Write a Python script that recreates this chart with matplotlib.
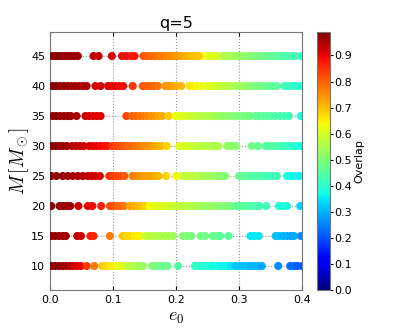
import numpy as np
import matplotlib
matplotlib.use('Agg')
from matplotlib import pyplot as plt

plt.rcParams['mathtext.fontset'] = 'cm'
plt.rcParams['font.family'] = ['DejaVu Sans']

# eccentricity / overlap per total mass row
e0_45 = [0.004, 0.009, 0.014, 0.019, 0.024, 0.029, 0.034, 0.039, 0.044,
         0.069, 0.077, 0.098, 0.114, 0.121, 0.128, 0.134,
         0.148, 0.154, 0.160, 0.166, 0.172, 0.178, 0.184, 0.190, 0.196, 0.202,
         0.208, 0.214, 0.220, 0.226, 0.232, 0.237,
         0.248, 0.254, 0.260, 0.266,
         0.276, 0.282, 0.288, 0.294, 0.300, 0.306, 0.312, 0.318, 0.324, 0.330,
         0.336, 0.342, 0.348, 0.354, 0.360, 0.366, 0.372, 0.378, 0.384, 0.390,
         0.400]
ov_45 = [0.98, 0.98, 0.98, 0.97, 0.97, 0.97, 0.97, 0.96, 0.96,
         0.93, 0.93, 0.91, 0.89, 0.89, 0.88, 0.88,
         0.81, 0.80, 0.79, 0.79, 0.78, 0.77, 0.76, 0.76, 0.75, 0.74,
         0.73, 0.72, 0.71, 0.70, 0.70, 0.69,
         0.63, 0.62, 0.61, 0.60,
         0.56, 0.55, 0.55, 0.54, 0.53, 0.52, 0.52, 0.51, 0.50, 0.49,
         0.48, 0.48, 0.47, 0.46, 0.45, 0.45, 0.44, 0.44, 0.43, 0.43,
         0.40]

e0_40 = [0.004, 0.010, 0.016, 0.022, 0.028, 0.034, 0.040, 0.046, 0.052, 0.058,
         0.072, 0.080, 0.092, 0.098, 0.104, 0.110, 0.116, 0.131,
         0.147, 0.153, 0.159, 0.165, 0.171,
         0.183, 0.189, 0.195, 0.201, 0.208,
         0.221, 0.227, 0.233, 0.240,
         0.250, 0.256, 0.262, 0.268, 0.274, 0.280, 0.286,
         0.294, 0.300, 0.306, 0.312, 0.318, 0.324, 0.330, 0.336, 0.342, 0.348,
         0.354, 0.360,
         0.372, 0.378, 0.384, 0.390, 0.398]
ov_40 = [0.98, 0.98, 0.97, 0.97, 0.97, 0.96, 0.96, 0.96, 0.95, 0.95,
         0.92, 0.92, 0.91, 0.90, 0.90, 0.89, 0.89, 0.85,
         0.81, 0.80, 0.80, 0.79, 0.78,
         0.75, 0.74, 0.73, 0.72, 0.71,
         0.66, 0.65, 0.64, 0.63,
         0.62, 0.61, 0.60, 0.59, 0.58, 0.57, 0.56,
         0.55, 0.54, 0.53, 0.52, 0.51, 0.50, 0.49, 0.48, 0.48, 0.47,
         0.46, 0.46,
         0.42, 0.42, 0.41, 0.40, 0.39]

e0_35 = [0.004, 0.010, 0.016, 0.022, 0.028, 0.033, 0.042,
         0.056, 0.062, 0.068, 0.074, 0.080, 0.121,
         0.130, 0.136, 0.142, 0.148, 0.154, 0.160, 0.166, 0.172, 0.178, 0.188,
         0.199, 0.205, 0.211, 0.217, 0.223, 0.229, 0.235, 0.241, 0.247, 0.253,
         0.259, 0.264,
         0.270, 0.276, 0.282, 0.288, 0.294, 0.300, 0.306, 0.312, 0.317,
         0.326, 0.332, 0.338, 0.344, 0.350, 0.357,
         0.365, 0.372, 0.379, 0.398]
ov_35 = [0.98, 0.98, 0.97, 0.97, 0.97, 0.96, 0.95,
         0.92, 0.92, 0.91, 0.91, 0.90, 0.83,
         0.80, 0.79, 0.78, 0.77, 0.76, 0.75, 0.74, 0.73, 0.72, 0.69,
         0.63, 0.62, 0.61, 0.60, 0.59, 0.58, 0.58, 0.57, 0.56, 0.56,
         0.55, 0.54,
         0.53, 0.52, 0.52, 0.51, 0.50, 0.50, 0.49, 0.49, 0.48,
         0.47, 0.46, 0.46, 0.45, 0.45, 0.44,
         0.43, 0.43, 0.42, 0.38]

e0_30 = [0.003, 0.009, 0.015, 0.021, 0.027,
         0.035, 0.041, 0.047, 0.053,
         0.062, 0.068, 0.074, 0.080, 0.086, 0.091,
         0.099, 0.105, 0.111, 0.117, 0.123, 0.129, 0.135, 0.141, 0.147, 0.153,
         0.159, 0.165, 0.171, 0.177, 0.185,
         0.205, 0.212, 0.219, 0.225,
         0.232, 0.238, 0.244, 0.250, 0.256, 0.262, 0.267,
         0.281, 0.288, 0.295, 0.320, 0.330,
         0.342, 0.348, 0.354, 0.360, 0.366, 0.372, 0.378, 0.384, 0.390, 0.398]
ov_30 = [0.98, 0.98, 0.97, 0.97, 0.96,
         0.94, 0.93, 0.93, 0.92,
         0.91, 0.90, 0.90, 0.89, 0.88, 0.88,
         0.84, 0.83, 0.82, 0.81, 0.80, 0.79, 0.78, 0.77, 0.76, 0.75,
         0.74, 0.73, 0.72, 0.71, 0.68,
         0.62, 0.61, 0.60, 0.59,
         0.58, 0.57, 0.57, 0.56, 0.56, 0.55, 0.55,
         0.52, 0.52, 0.51, 0.48, 0.47,
         0.45, 0.45, 0.44, 0.44, 0.43, 0.42, 0.41, 0.40, 0.39, 0.37]

e0_25 = [0.002, 0.010,
         0.020, 0.028, 0.036, 0.044, 0.052, 0.060, 0.066, 0.072, 0.079,
         0.094, 0.100, 0.106, 0.112, 0.118,
         0.131, 0.137, 0.143, 0.149, 0.155, 0.161, 0.167, 0.172,
         0.184, 0.200,
         0.211, 0.217, 0.223, 0.228,
         0.236, 0.242, 0.248, 0.254, 0.260, 0.266, 0.272, 0.278,
         0.300, 0.306, 0.312, 0.318, 0.324, 0.330, 0.336, 0.342, 0.348, 0.354,
         0.360,
         0.376, 0.382, 0.388, 0.395]
ov_25 = [0.98, 0.98,
         0.97, 0.96, 0.96, 0.95, 0.94, 0.93, 0.92, 0.92, 0.91,
         0.85, 0.84, 0.83, 0.82, 0.81,
         0.77, 0.76, 0.75, 0.74, 0.73, 0.73, 0.72, 0.71,
         0.68, 0.63,
         0.59, 0.58, 0.58, 0.57,
         0.56, 0.55, 0.55, 0.54, 0.53, 0.52, 0.52, 0.51,
         0.47, 0.46, 0.46, 0.45, 0.45, 0.44, 0.44, 0.43, 0.43, 0.42,
         0.42,
         0.38, 0.37, 0.37, 0.36]

e0_20 = [0.002,
         0.015, 0.021, 0.027, 0.032, 0.045, 0.060, 0.067, 0.081,
         0.095, 0.101, 0.107, 0.113, 0.117,
         0.127, 0.133, 0.139, 0.145, 0.151,
         0.158, 0.164, 0.170, 0.176, 0.182, 0.188, 0.194, 0.200,
         0.206, 0.212, 0.218, 0.224, 0.230, 0.236, 0.242, 0.248, 0.254, 0.260,
         0.266, 0.272, 0.278, 0.284, 0.290,
         0.297, 0.303, 0.309, 0.315, 0.321, 0.327, 0.332,
         0.343, 0.363, 0.370, 0.376, 0.397]
ov_20 = [0.98,
         0.97, 0.97, 0.96, 0.96, 0.92, 0.90, 0.89, 0.87,
         0.82, 0.81, 0.80, 0.79, 0.78,
         0.73, 0.72, 0.71, 0.70, 0.68,
         0.64, 0.63, 0.62, 0.61, 0.61, 0.60, 0.59, 0.59,
         0.58, 0.57, 0.57, 0.56, 0.55, 0.55, 0.54, 0.53, 0.53, 0.52,
         0.52, 0.51, 0.50, 0.50, 0.49,
         0.46, 0.46, 0.45, 0.45, 0.44, 0.44, 0.43,
         0.42, 0.39, 0.38, 0.38, 0.33]

e0_15 = [0.002, 0.008, 0.014, 0.020, 0.025,
         0.043, 0.049, 0.064, 0.069, 0.095,
         0.115, 0.121, 0.127, 0.133, 0.139, 0.144,
         0.152, 0.158, 0.164, 0.170, 0.176,
         0.183, 0.189, 0.195,
         0.211, 0.217, 0.224, 0.239, 0.246,
         0.258, 0.264, 0.270, 0.283,
         0.318, 0.324, 0.331,
         0.358, 0.364, 0.370, 0.376, 0.382, 0.387, 0.398]
ov_15 = [0.98, 0.97, 0.97, 0.96, 0.96,
         0.93, 0.92, 0.87, 0.86, 0.77,
         0.69, 0.68, 0.67, 0.66, 0.65, 0.64,
         0.58, 0.57, 0.57, 0.56, 0.56,
         0.55, 0.55, 0.54,
         0.50, 0.50, 0.49, 0.48, 0.48,
         0.47, 0.47, 0.46, 0.45,
         0.35, 0.35, 0.35,
         0.31, 0.31, 0.30, 0.30, 0.29, 0.29, 0.26]

e0_10 = [0.002, 0.008, 0.014, 0.020, 0.026, 0.032,
         0.037, 0.043, 0.049, 0.058, 0.070,
         0.083, 0.089, 0.095, 0.101, 0.106, 0.110, 0.116,
         0.125, 0.131, 0.137, 0.143, 0.148,
         0.162, 0.168, 0.174, 0.180, 0.186, 0.203,
         0.230, 0.236, 0.242, 0.248, 0.254,
         0.259, 0.265, 0.271, 0.277, 0.283, 0.287,
         0.294, 0.300, 0.306, 0.312, 0.318, 0.324, 0.330, 0.336,
         0.362, 0.381, 0.387, 0.392, 0.400]
ov_10 = [0.98, 0.98, 0.97, 0.97, 0.96, 0.95,
         0.92, 0.91, 0.90, 0.84, 0.78,
         0.69, 0.68, 0.66, 0.65, 0.64, 0.62, 0.61,
         0.57, 0.56, 0.55, 0.54, 0.53,
         0.50, 0.49, 0.48, 0.47, 0.47, 0.44,
         0.40, 0.40, 0.39, 0.39, 0.38,
         0.37, 0.37, 0.36, 0.36, 0.36, 0.35,
         0.32, 0.32, 0.31, 0.31, 0.30, 0.30, 0.30, 0.29,
         0.26, 0.23, 0.23, 0.22, 0.21]

masses = [10, 15, 20, 25, 30, 35, 40, 45]
e0_rows = [e0_10, e0_15, e0_20, e0_25, e0_30, e0_35, e0_40, e0_45]
ov_rows = [ov_10, ov_15, ov_20, ov_25, ov_30, ov_35, ov_40, ov_45]

xs, ys, cs = [], [], []
for m, e, o in zip(masses, e0_rows, ov_rows):
    xs += e
    ys += [m] * len(e)
    cs += o

fig = plt.figure(figsize=(4.04, 3.32), dpi=100)
ax = fig.add_axes([0.124, 0.1265, 0.624, 0.777])
sc = ax.scatter(xs, ys, c=cs, cmap='jet', vmin=0.0, vmax=0.99, s=34,
                linewidths=0, zorder=3)
ax.set_xlim(0.0, 0.4)
ax.set_ylim(6, 49)
ax.set_xticks([0.0, 0.1, 0.2, 0.3, 0.4])
ax.set_yticks(masses)
ax.grid(True, linestyle=':', color='#999999', linewidth=0.8, zorder=0)
ax.tick_params(labelsize=8, direction='in', length=3, top=True, right=True)
for sp in ax.spines.values():
    sp.set_color('#777777')
ax.set_xlabel(r'$e_0$', fontsize=13, labelpad=2)
ax.set_ylabel(r'$M\,[M_\odot]$', fontsize=14, labelpad=0)
ax.set_title('q=5', fontsize=11.5, pad=3)

cax = fig.add_axes([0.785, 0.1265, 0.032, 0.777])
cb = fig.colorbar(sc, cax=cax, ticks=[0.0, 0.1, 0.2, 0.3, 0.4, 0.5, 0.6, 0.7, 0.8, 0.9])
cb.ax.tick_params(labelsize=8, length=2, pad=1)
cb.outline.set_edgecolor('#777777')
cb.set_label('Overlap', fontsize=8, labelpad=2)

fig.savefig('out.png', dpi=100)
